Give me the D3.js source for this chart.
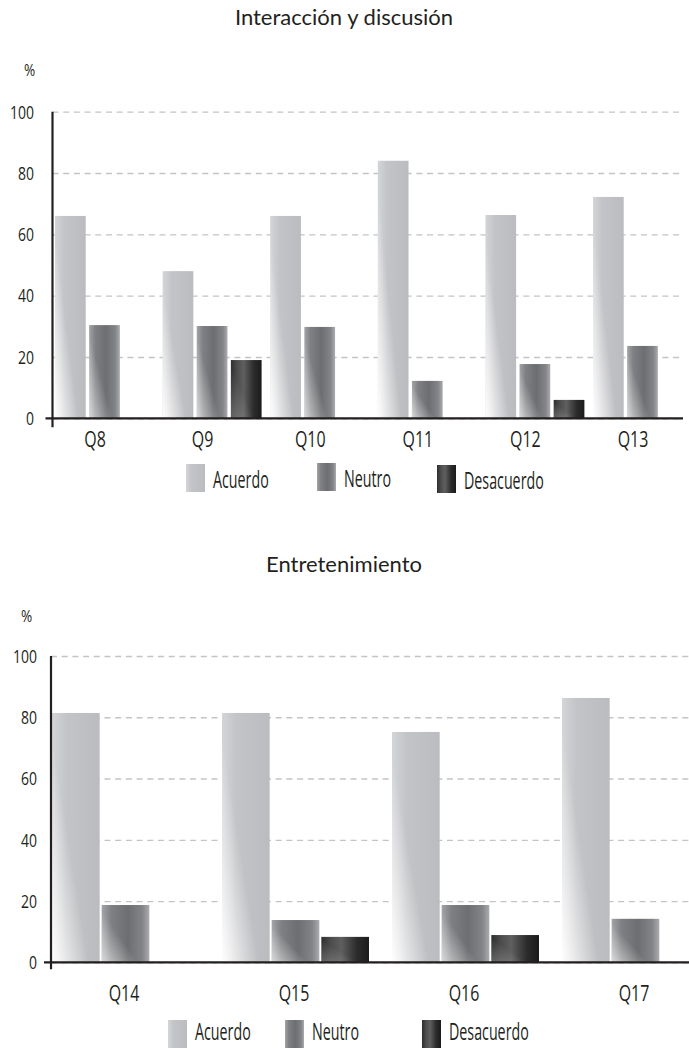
<!DOCTYPE html>
<html>
<head>
<meta charset="utf-8">
<script src="https://cdn.jsdelivr.net/npm/d3@7"></script>
<style>
  html, body { margin: 0; padding: 0; background: #fff; }
  svg { display: block; }
  .cond { font-family: "Open Sans", "Noto Sans", sans-serif; fill: #231f20; }
  .title { font-family: Lato, "Open Sans", sans-serif; fill: #231f20; }
</style>
</head>
<body>
<svg id="chart" width="689" height="1048"></svg>
<script>
// ---- data ----
const series = ["Acuerdo", "Neutro", "Desacuerdo"];
const yTicks = [0, 20, 40, 60, 80, 100];

const topTitle = "Interacción y discusión";
const topCategories = ["Q8", "Q9", "Q10", "Q11", "Q12", "Q13"];
const topAcuerdo    = [66, 48, 66, 84, 66.3, 72.2];
const topNeutro     = [30.4, 30.1, 29.8, 12.2, 17.7, 23.6];
const topDesacuerdo = [0, 19, 0, 0, 6, 0];

const botTitle = "Entretenimiento";
const botCategories = ["Q14", "Q15", "Q16", "Q17"];
const botAcuerdo    = [81.4, 81.4, 75.2, 86.3];
const botNeutro     = [18.7, 13.8, 18.7, 14.2];
const botDesacuerdo = [0, 8.3, 8.9, 0];

// ---- drawing ----
const svg = d3.select("#chart");
const defs = svg.append("defs");

// condensed text styles (font size, horizontal squeeze)
const TICK = { size: 17.5, sx: 0.8 };
const CAT  = { size: 21, sx: 0.76 };
const LEG  = { size: 23, sx: 0.62 };

function hGrad(id, stops) {
  const g = defs.append("linearGradient").attr("id", id)
    .attr("x1", 0).attr("y1", 0).attr("x2", 1).attr("y2", 0);
  stops.forEach(s => g.append("stop").attr("offset", s[0]).attr("stop-color", s[1]));
}
hGrad("gA", [[0, "#d4d5d7"], [0.3, "#c3c4c7"], [1, "#bbbcbf"]]);
hGrad("gN", [[0, "#a3a4a7"], [0.2, "#7f8083"], [0.55, "#6d6e71"], [0.85, "#838487"], [1, "#abacaf"]]);
hGrad("gD", [[0, "#2e2e2e"], [0.2, "#4c4c4c"], [0.42, "#5f5f5f"], [0.75, "#2b2b2b"], [1, "#1b1b1b"]]);

function fadeGrad(id, op) {
  const g = defs.append("linearGradient").attr("id", id)
    .attr("x1", 0).attr("y1", 1).attr("x2", 0.45).attr("y2", 0.62);
  g.append("stop").attr("offset", 0).attr("stop-color", "#fff").attr("stop-opacity", op);
  g.append("stop").attr("offset", 1).attr("stop-color", "#fff").attr("stop-opacity", 0);
}
fadeGrad("fA", 0.97);
fadeGrad("fN", 0.6);
fadeGrad("fD", 0.25);

const fillOf = { Acuerdo: "url(#gA)", Neutro: "url(#gN)", Desacuerdo: "url(#gD)" };
const fadeOf = { Acuerdo: "url(#fA)", Neutro: "url(#fN)", Desacuerdo: "url(#fD)" };

function drawChart(cfg) {
  const g = svg.append("g");
  const y = d3.scaleLinear().domain([0, 100]).range([cfg.y0, cfg.y100]);
  const x0 = d3.scaleBand().domain(cfg.categories)
    .range([cfg.xStart, cfg.xStart + cfg.step * cfg.categories.length]).padding(0);
  const x1 = d3.scaleBand().domain(series).range([0, cfg.groupW]).paddingInner(cfg.innerPad);

  // title
  g.append("text").attr("class", "title").attr("x", cfg.titleX).attr("y", cfg.titleY)
    .attr("text-anchor", "middle").style("font-size", cfg.titleSize + "px").text(cfg.title);
  // %
  g.append("text").attr("class", "cond")
    .attr("transform", `translate(${cfg.pctX},${cfg.pctY}) scale(0.8,1)`)
    .style("font-size", "17px").text("%");

  // grid + y tick labels
  const pad = cfg.axisX - cfg.labelRight;
  const yAxis = d3.axisLeft(y).tickValues(yTicks).tickFormat(d3.format("d"))
    .tickSizeInner(-(cfg.gridEnd - cfg.axisX)).tickSizeOuter(0).tickPadding(pad);
  const ya = g.append("g").attr("transform", `translate(${cfg.axisX},0)`).call(yAxis);
  ya.select(".domain").remove();
  ya.selectAll(".tick line").attr("stroke", "#c4c4c4").attr("stroke-width", 1.3)
    .attr("stroke-dasharray", "6,4.7");
  ya.selectAll(".tick text").attr("class", "cond").attr("fill", "#231f20")
    .attr("x", 0).attr("dy", "0.36em")
    .attr("transform", `translate(${-pad},0) scale(${TICK.sx},1)`)
    .style("font-size", TICK.size + "px");

  // bars
  const rows = cfg.categories.map((c, i) => ({
    cat: c,
    vals: [
      { key: "Acuerdo", v: cfg.acuerdo[i] },
      { key: "Neutro", v: cfg.neutro[i] },
      { key: "Desacuerdo", v: cfg.desacuerdo[i] }
    ].filter(d => d.v > 0)
  }));
  const grp = g.append("g").selectAll("g").data(rows).join("g")
    .attr("transform", d => `translate(${x0(d.cat)},0)`);
  grp.selectAll("rect.bar").data(d => d.vals).join("rect").attr("class", "bar")
    .attr("x", d => x1(d.key)).attr("width", x1.bandwidth())
    .attr("y", d => y(d.v)).attr("height", d => y(0) - y(d.v))
    .attr("fill", d => fillOf[d.key]);
  grp.selectAll("rect.fade").data(d => d.vals).join("rect").attr("class", "fade")
    .attr("x", d => x1(d.key)).attr("width", x1.bandwidth())
    .attr("y", d => y(d.v)).attr("height", d => y(0) - y(d.v))
    .attr("fill", d => fadeOf[d.key]);

  // axis lines
  g.append("line").attr("x1", cfg.axisX).attr("x2", cfg.axisX)
    .attr("y1", y(100)).attr("y2", y(0) + cfg.yAxisExt)
    .attr("stroke", "#231f20").attr("stroke-width", 2.2);
  g.append("line").attr("x1", cfg.axisX - 7).attr("x2", cfg.gridEnd)
    .attr("y1", y(0)).attr("y2", y(0))
    .attr("stroke", "#231f20").attr("stroke-width", 2.2);

  // category labels
  g.append("g").selectAll("text").data(cfg.categories).join("text")
    .attr("class", "cond").attr("text-anchor", "middle")
    .attr("transform", d => `translate(${x0(d) + cfg.labelOff},${cfg.catY}) scale(${CAT.sx},1)`)
    .style("font-size", CAT.size + "px").text(d => d);

  // legend
  const lg = g.append("g").selectAll("g").data(series).join("g")
    .attr("transform", (d, i) => `translate(${cfg.legX[i]},${cfg.legY})`);
  lg.append("rect").attr("x", 0).attr("y", (d, i) => cfg.legDy[i]).attr("width", 19).attr("height", 28)
    .attr("fill", d => fillOf[d]);
  lg.append("text").attr("class", "cond")
    .attr("transform", (d, i) => `translate(${cfg.legTx},${cfg.legTy + cfg.legDy[i]}) scale(${LEG.sx},1)`)
    .style("font-size", LEG.size + "px").text(d => d);
}

drawChart({
  title: topTitle, titleX: 344, titleY: 25, titleSize: 22,
  pctX: 24, pctY: 76,
  categories: topCategories, acuerdo: topAcuerdo, neutro: topNeutro, desacuerdo: topDesacuerdo,
  y0: 418.3, y100: 111.7, axisX: 52.5, labelRight: 34, gridEnd: 683, yAxisExt: 9,
  xStart: 55, step: 107.6, groupW: 99, innerPad: 0.1, labelOff: 40,
  catY: 447,
  legX: [186, 317, 437], legY: 464, legDy: [0, -1, 1], legTx: 27, legTy: 24
});

drawChart({
  title: botTitle, titleX: 344, titleY: 572, titleSize: 22,
  pctX: 21, pctY: 622,
  categories: botCategories, acuerdo: botAcuerdo, neutro: botNeutro, desacuerdo: botDesacuerdo,
  y0: 962.3, y100: 656, axisX: 51, labelRight: 37, gridEnd: 689, yAxisExt: 7,
  xStart: 52, step: 170, groupW: 147, innerPad: 0.04, labelOff: 72,
  catY: 1001,
  legX: [168, 285, 422], legY: 1020, legDy: [0, 0, 0], legTx: 27, legTy: 20
});
</script>
</body>
</html>
